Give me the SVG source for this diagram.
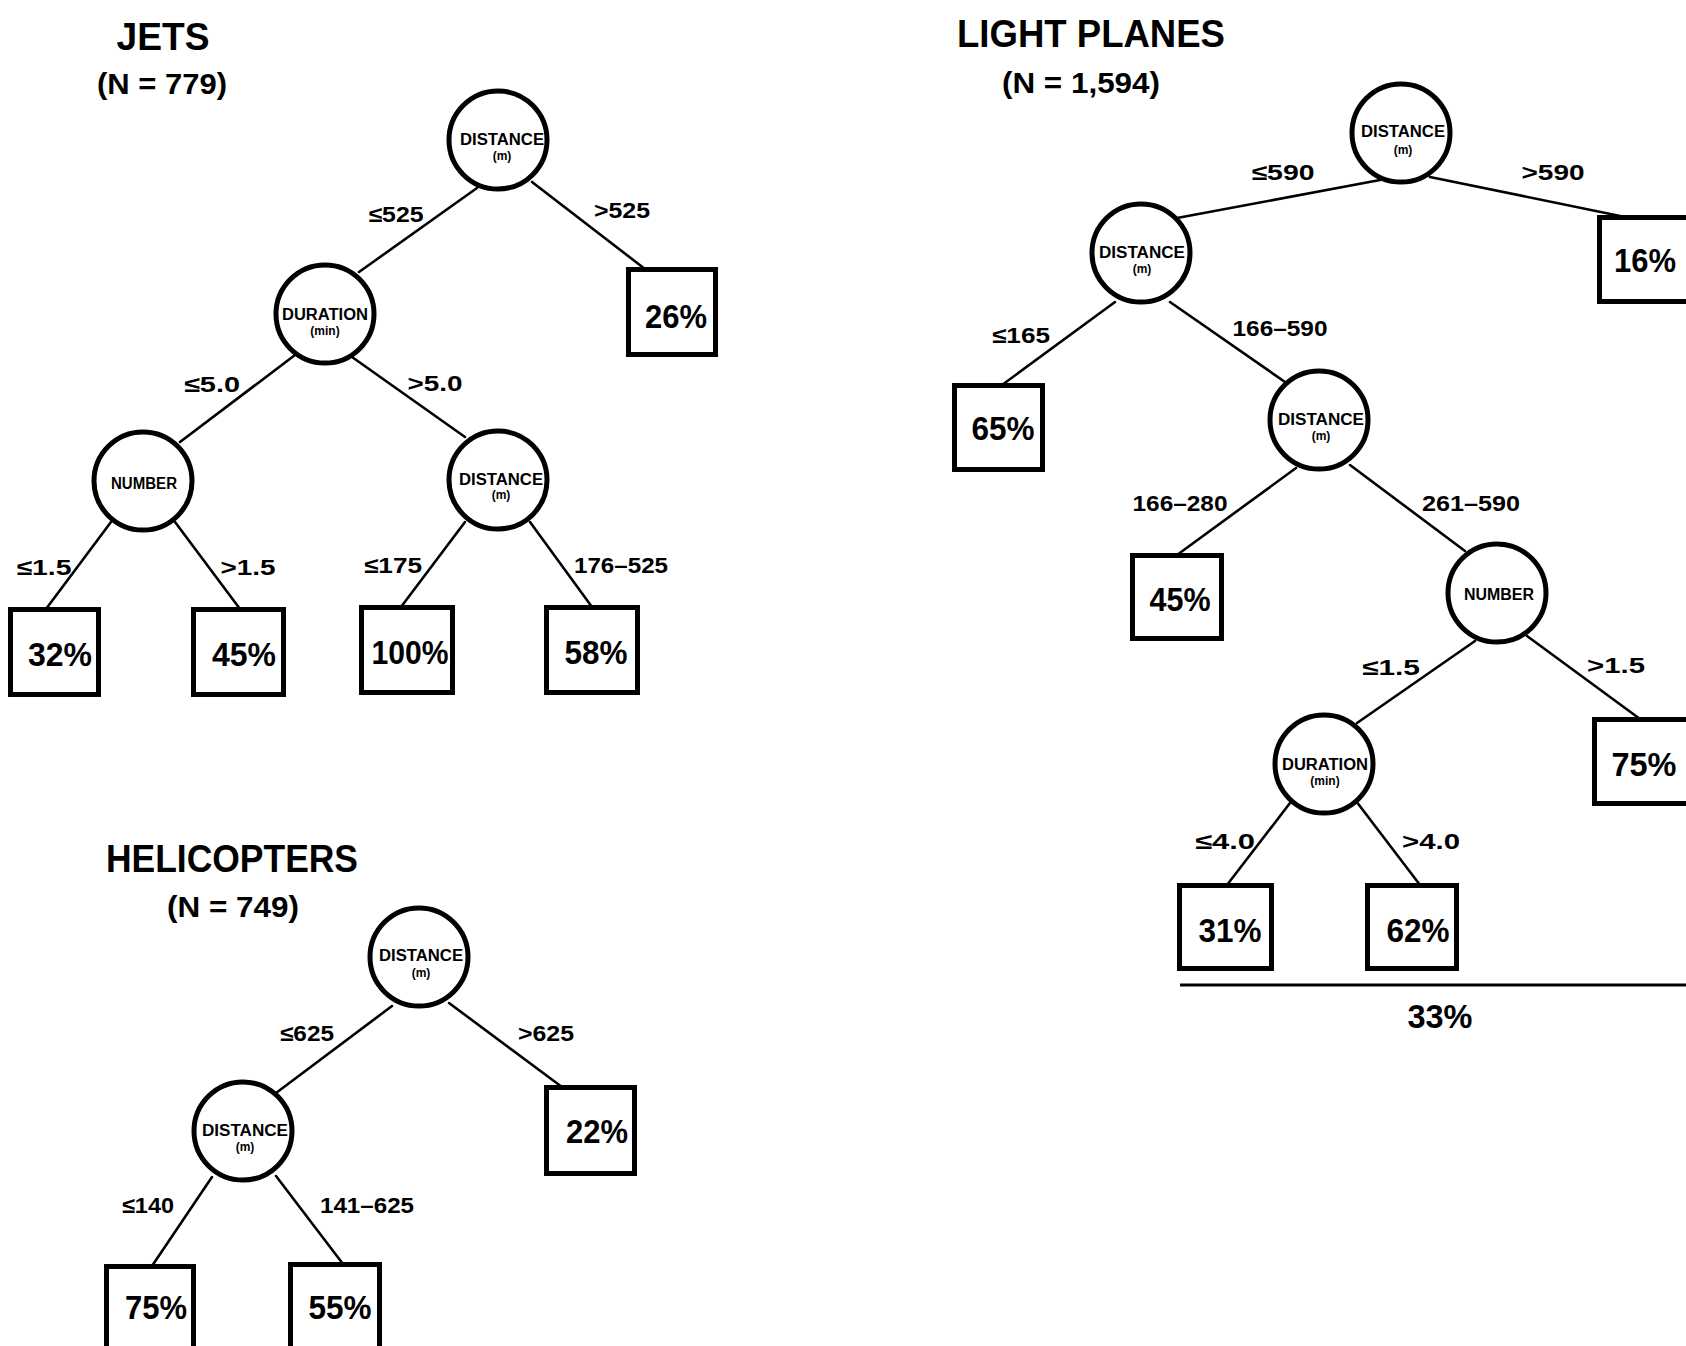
<svg xmlns="http://www.w3.org/2000/svg" width="1686" height="1346" viewBox="0 0 1686 1346">
  <style>
    text { font-family: "Liberation Sans", Arial, sans-serif; font-weight: bold; fill: #000; text-anchor: middle; }
    .title { font-size: 38px; }
    .count { font-size: 30px; }
    .cond { font-size: 22px; }
    .pct { font-size: 34px; }
    .var { font-size: 16px; }
    .unit { font-size: 12px; }
    .node circle { fill: #fff; stroke: #000; stroke-width: 5; }
    .leaf rect { fill: #fff; stroke: #000; stroke-width: 5; }
    .edges line { stroke: #000; stroke-width: 2.6; stroke-linecap: round; }
  </style>
  <rect width="1686" height="1346" fill="#fff"/>

  <!-- ===== Connectors ===== -->
  <g id="connectors" class="edges">
    <!-- jets -->
    <line x1="477" y1="188" x2="359" y2="272"/>
    <line x1="532" y1="182" x2="645" y2="269"/>
    <line x1="295" y1="355" x2="180" y2="442"/>
    <line x1="352" y1="357" x2="465" y2="437"/>
    <line x1="111" y1="522" x2="46" y2="609"/>
    <line x1="175" y1="522" x2="240" y2="609"/>
    <line x1="465" y1="522" x2="401" y2="607"/>
    <line x1="530" y1="522" x2="592" y2="607"/>
    <!-- light planes -->
    <line x1="1380" y1="180" x2="1177" y2="218"/>
    <line x1="1430" y1="177" x2="1625" y2="217"/>
    <line x1="1115" y1="302" x2="1002" y2="385"/>
    <line x1="1170" y1="302" x2="1285" y2="382"/>
    <line x1="1296" y1="468" x2="1177" y2="555"/>
    <line x1="1350" y1="465" x2="1465" y2="551"/>
    <line x1="1475" y1="641" x2="1357" y2="723"/>
    <line x1="1527" y1="636" x2="1640" y2="719"/>
    <line x1="1290" y1="803" x2="1227" y2="885"/>
    <line x1="1356" y1="801" x2="1420" y2="885"/>
    <!-- helicopters -->
    <line x1="392" y1="1006" x2="276" y2="1093"/>
    <line x1="449" y1="1003" x2="562" y2="1087"/>
    <line x1="212" y1="1177" x2="152" y2="1266"/>
    <line x1="276" y1="1176" x2="343" y2="1264"/>
  </g>

  <!-- ===== Jets ===== -->
  <g id="jets-title">
    <text class="title" x="163" y="50" textLength="93" lengthAdjust="spacingAndGlyphs">JETS</text>
    <text class="count" x="162" y="94" textLength="130" lengthAdjust="spacingAndGlyphs">(N = 779)</text>
  </g>
  <g id="jets-n1" class="node">
    <circle cx="498" cy="140" r="49"/>
    <text class="var" x="502" y="145" textLength="84" lengthAdjust="spacingAndGlyphs">DISTANCE</text>
    <text class="unit" x="502" y="160">(m)</text>
  </g>
  <g id="jets-n2" class="node">
    <circle cx="325" cy="314" r="49"/>
    <text class="var" x="325" y="320" textLength="86" lengthAdjust="spacingAndGlyphs">DURATION</text>
    <text class="unit" x="325" y="335">(min)</text>
  </g>
  <g id="jets-n3" class="node">
    <circle cx="143" cy="481" r="49"/>
    <text class="var" x="144" y="489" textLength="66" lengthAdjust="spacingAndGlyphs">NUMBER</text>
  </g>
  <g id="jets-n4" class="node">
    <circle cx="498" cy="480" r="49"/>
    <text class="var" x="501" y="485" textLength="84" lengthAdjust="spacingAndGlyphs">DISTANCE</text>
    <text class="unit" x="501" y="499">(m)</text>
  </g>
  <g id="jets-l1" class="leaf">
    <rect x="628.5" y="269.5" width="87" height="85"/>
    <text class="pct" x="676" y="328" textLength="62" lengthAdjust="spacingAndGlyphs">26%</text>
  </g>
  <g id="jets-l2" class="leaf">
    <rect x="10.5" y="609.5" width="88" height="85"/>
    <text class="pct" x="60" y="666" textLength="64" lengthAdjust="spacingAndGlyphs">32%</text>
  </g>
  <g id="jets-l3" class="leaf">
    <rect x="193.5" y="609.5" width="90" height="85"/>
    <text class="pct" x="244" y="666" textLength="64" lengthAdjust="spacingAndGlyphs">45%</text>
  </g>
  <g id="jets-l4" class="leaf">
    <rect x="361.5" y="607.5" width="91" height="85"/>
    <text class="pct" x="410" y="664" textLength="77" lengthAdjust="spacingAndGlyphs">100%</text>
  </g>
  <g id="jets-l5" class="leaf">
    <rect x="546.5" y="607.5" width="91" height="85"/>
    <text class="pct" x="596" y="664" textLength="63" lengthAdjust="spacingAndGlyphs">58%</text>
  </g>
  <g id="jets-labels">
    <text class="cond" x="396" y="222" textLength="55" lengthAdjust="spacingAndGlyphs">≤525</text>
    <text class="cond" x="622" y="218" textLength="56" lengthAdjust="spacingAndGlyphs">&gt;525</text>
    <text class="cond" x="212" y="392" textLength="56" lengthAdjust="spacingAndGlyphs">≤5.0</text>
    <text class="cond" x="435" y="391" textLength="55" lengthAdjust="spacingAndGlyphs">&gt;5.0</text>
    <text class="cond" x="44" y="575" textLength="55" lengthAdjust="spacingAndGlyphs">≤1.5</text>
    <text class="cond" x="248" y="575" textLength="55" lengthAdjust="spacingAndGlyphs">&gt;1.5</text>
    <text class="cond" x="393" y="573" textLength="58" lengthAdjust="spacingAndGlyphs">≤175</text>
    <text class="cond" x="621" y="573" textLength="94" lengthAdjust="spacingAndGlyphs">176–525</text>
  </g>

  <!-- ===== Light planes ===== -->
  <g id="lp-title">
    <text class="title" x="1091" y="47" textLength="268" lengthAdjust="spacingAndGlyphs">LIGHT PLANES</text>
    <text class="count" x="1081" y="93" textLength="158" lengthAdjust="spacingAndGlyphs">(N = 1,594)</text>
  </g>
  <g id="lp-n1" class="node">
    <circle cx="1401" cy="133" r="49"/>
    <text class="var" x="1403" y="137" textLength="84" lengthAdjust="spacingAndGlyphs">DISTANCE</text>
    <text class="unit" x="1403" y="154">(m)</text>
  </g>
  <g id="lp-n2" class="node">
    <circle cx="1141" cy="253" r="49"/>
    <text class="var" x="1142" y="258" textLength="86" lengthAdjust="spacingAndGlyphs">DISTANCE</text>
    <text class="unit" x="1142" y="273">(m)</text>
  </g>
  <g id="lp-n3" class="node">
    <circle cx="1319" cy="420" r="49"/>
    <text class="var" x="1321" y="425" textLength="86" lengthAdjust="spacingAndGlyphs">DISTANCE</text>
    <text class="unit" x="1321" y="440">(m)</text>
  </g>
  <g id="lp-n4" class="node">
    <circle cx="1497" cy="593" r="49"/>
    <text class="var" x="1499" y="600" textLength="70" lengthAdjust="spacingAndGlyphs">NUMBER</text>
  </g>
  <g id="lp-n5" class="node">
    <circle cx="1324" cy="764" r="49"/>
    <text class="var" x="1325" y="770" textLength="86" lengthAdjust="spacingAndGlyphs">DURATION</text>
    <text class="unit" x="1325" y="785">(min)</text>
  </g>
  <g id="lp-l1" class="leaf">
    <rect x="1599.5" y="217.5" width="95" height="84"/>
    <text class="pct" x="1645" y="272" textLength="62" lengthAdjust="spacingAndGlyphs">16%</text>
  </g>
  <g id="lp-l2" class="leaf">
    <rect x="954.5" y="385.5" width="88" height="84"/>
    <text class="pct" x="1003" y="440" textLength="63" lengthAdjust="spacingAndGlyphs">65%</text>
  </g>
  <g id="lp-l3" class="leaf">
    <rect x="1132.5" y="555.5" width="89" height="83"/>
    <text class="pct" x="1180" y="611" textLength="61" lengthAdjust="spacingAndGlyphs">45%</text>
  </g>
  <g id="lp-l4" class="leaf">
    <rect x="1594.5" y="719.5" width="100" height="84"/>
    <text class="pct" x="1644" y="776" textLength="65" lengthAdjust="spacingAndGlyphs">75%</text>
  </g>
  <g id="lp-l5" class="leaf">
    <rect x="1179.5" y="885.5" width="92" height="83"/>
    <text class="pct" x="1230" y="942" textLength="63" lengthAdjust="spacingAndGlyphs">31%</text>
  </g>
  <g id="lp-l6" class="leaf">
    <rect x="1367.5" y="885.5" width="89" height="83"/>
    <text class="pct" x="1418" y="942" textLength="63" lengthAdjust="spacingAndGlyphs">62%</text>
  </g>
  <g id="lp-overall">
    <line x1="1180" y1="985" x2="1686" y2="985" stroke="#000" stroke-width="3.2"/>
    <text class="pct" x="1440" y="1028" textLength="65" lengthAdjust="spacingAndGlyphs">33%</text>
  </g>
  <g id="lp-labels">
    <text class="cond" x="1283" y="180" textLength="63" lengthAdjust="spacingAndGlyphs">≤590</text>
    <text class="cond" x="1553" y="180" textLength="63" lengthAdjust="spacingAndGlyphs">&gt;590</text>
    <text class="cond" x="1021" y="343" textLength="58" lengthAdjust="spacingAndGlyphs">≤165</text>
    <text class="cond" x="1280" y="336" textLength="95" lengthAdjust="spacingAndGlyphs">166–590</text>
    <text class="cond" x="1180" y="511" textLength="95" lengthAdjust="spacingAndGlyphs">166–280</text>
    <text class="cond" x="1471" y="511" textLength="98" lengthAdjust="spacingAndGlyphs">261–590</text>
    <text class="cond" x="1391" y="675" textLength="58" lengthAdjust="spacingAndGlyphs">≤1.5</text>
    <text class="cond" x="1616" y="673" textLength="58" lengthAdjust="spacingAndGlyphs">&gt;1.5</text>
    <text class="cond" x="1225" y="849" textLength="60" lengthAdjust="spacingAndGlyphs">≤4.0</text>
    <text class="cond" x="1431" y="849" textLength="58" lengthAdjust="spacingAndGlyphs">&gt;4.0</text>
  </g>

  <!-- ===== Helicopters ===== -->
  <g id="heli-title">
    <text class="title" x="232" y="872" textLength="252" lengthAdjust="spacingAndGlyphs">HELICOPTERS</text>
    <text class="count" x="233" y="917" textLength="132" lengthAdjust="spacingAndGlyphs">(N = 749)</text>
  </g>
  <g id="heli-n1" class="node">
    <circle cx="419" cy="957" r="49"/>
    <text class="var" x="421" y="961" textLength="84" lengthAdjust="spacingAndGlyphs">DISTANCE</text>
    <text class="unit" x="421" y="977">(m)</text>
  </g>
  <g id="heli-n2" class="node">
    <circle cx="243" cy="1131" r="49"/>
    <text class="var" x="245" y="1136" textLength="86" lengthAdjust="spacingAndGlyphs">DISTANCE</text>
    <text class="unit" x="245" y="1151">(m)</text>
  </g>
  <g id="heli-l1" class="leaf">
    <rect x="546.5" y="1087.5" width="88" height="86"/>
    <text class="pct" x="597" y="1143" textLength="62" lengthAdjust="spacingAndGlyphs">22%</text>
  </g>
  <g id="heli-l2" class="leaf">
    <rect x="106.5" y="1266.5" width="87" height="95"/>
    <text class="pct" x="156" y="1319" textLength="62" lengthAdjust="spacingAndGlyphs">75%</text>
  </g>
  <g id="heli-l3" class="leaf">
    <rect x="290.5" y="1264.5" width="89" height="95"/>
    <text class="pct" x="340" y="1319" textLength="63" lengthAdjust="spacingAndGlyphs">55%</text>
  </g>
  <g id="heli-labels">
    <text class="cond" x="307" y="1041" textLength="54" lengthAdjust="spacingAndGlyphs">≤625</text>
    <text class="cond" x="546" y="1041" textLength="56" lengthAdjust="spacingAndGlyphs">&gt;625</text>
    <text class="cond" x="148" y="1213" textLength="52" lengthAdjust="spacingAndGlyphs">≤140</text>
    <text class="cond" x="367" y="1213" textLength="94" lengthAdjust="spacingAndGlyphs">141–625</text>
  </g>
</svg>
